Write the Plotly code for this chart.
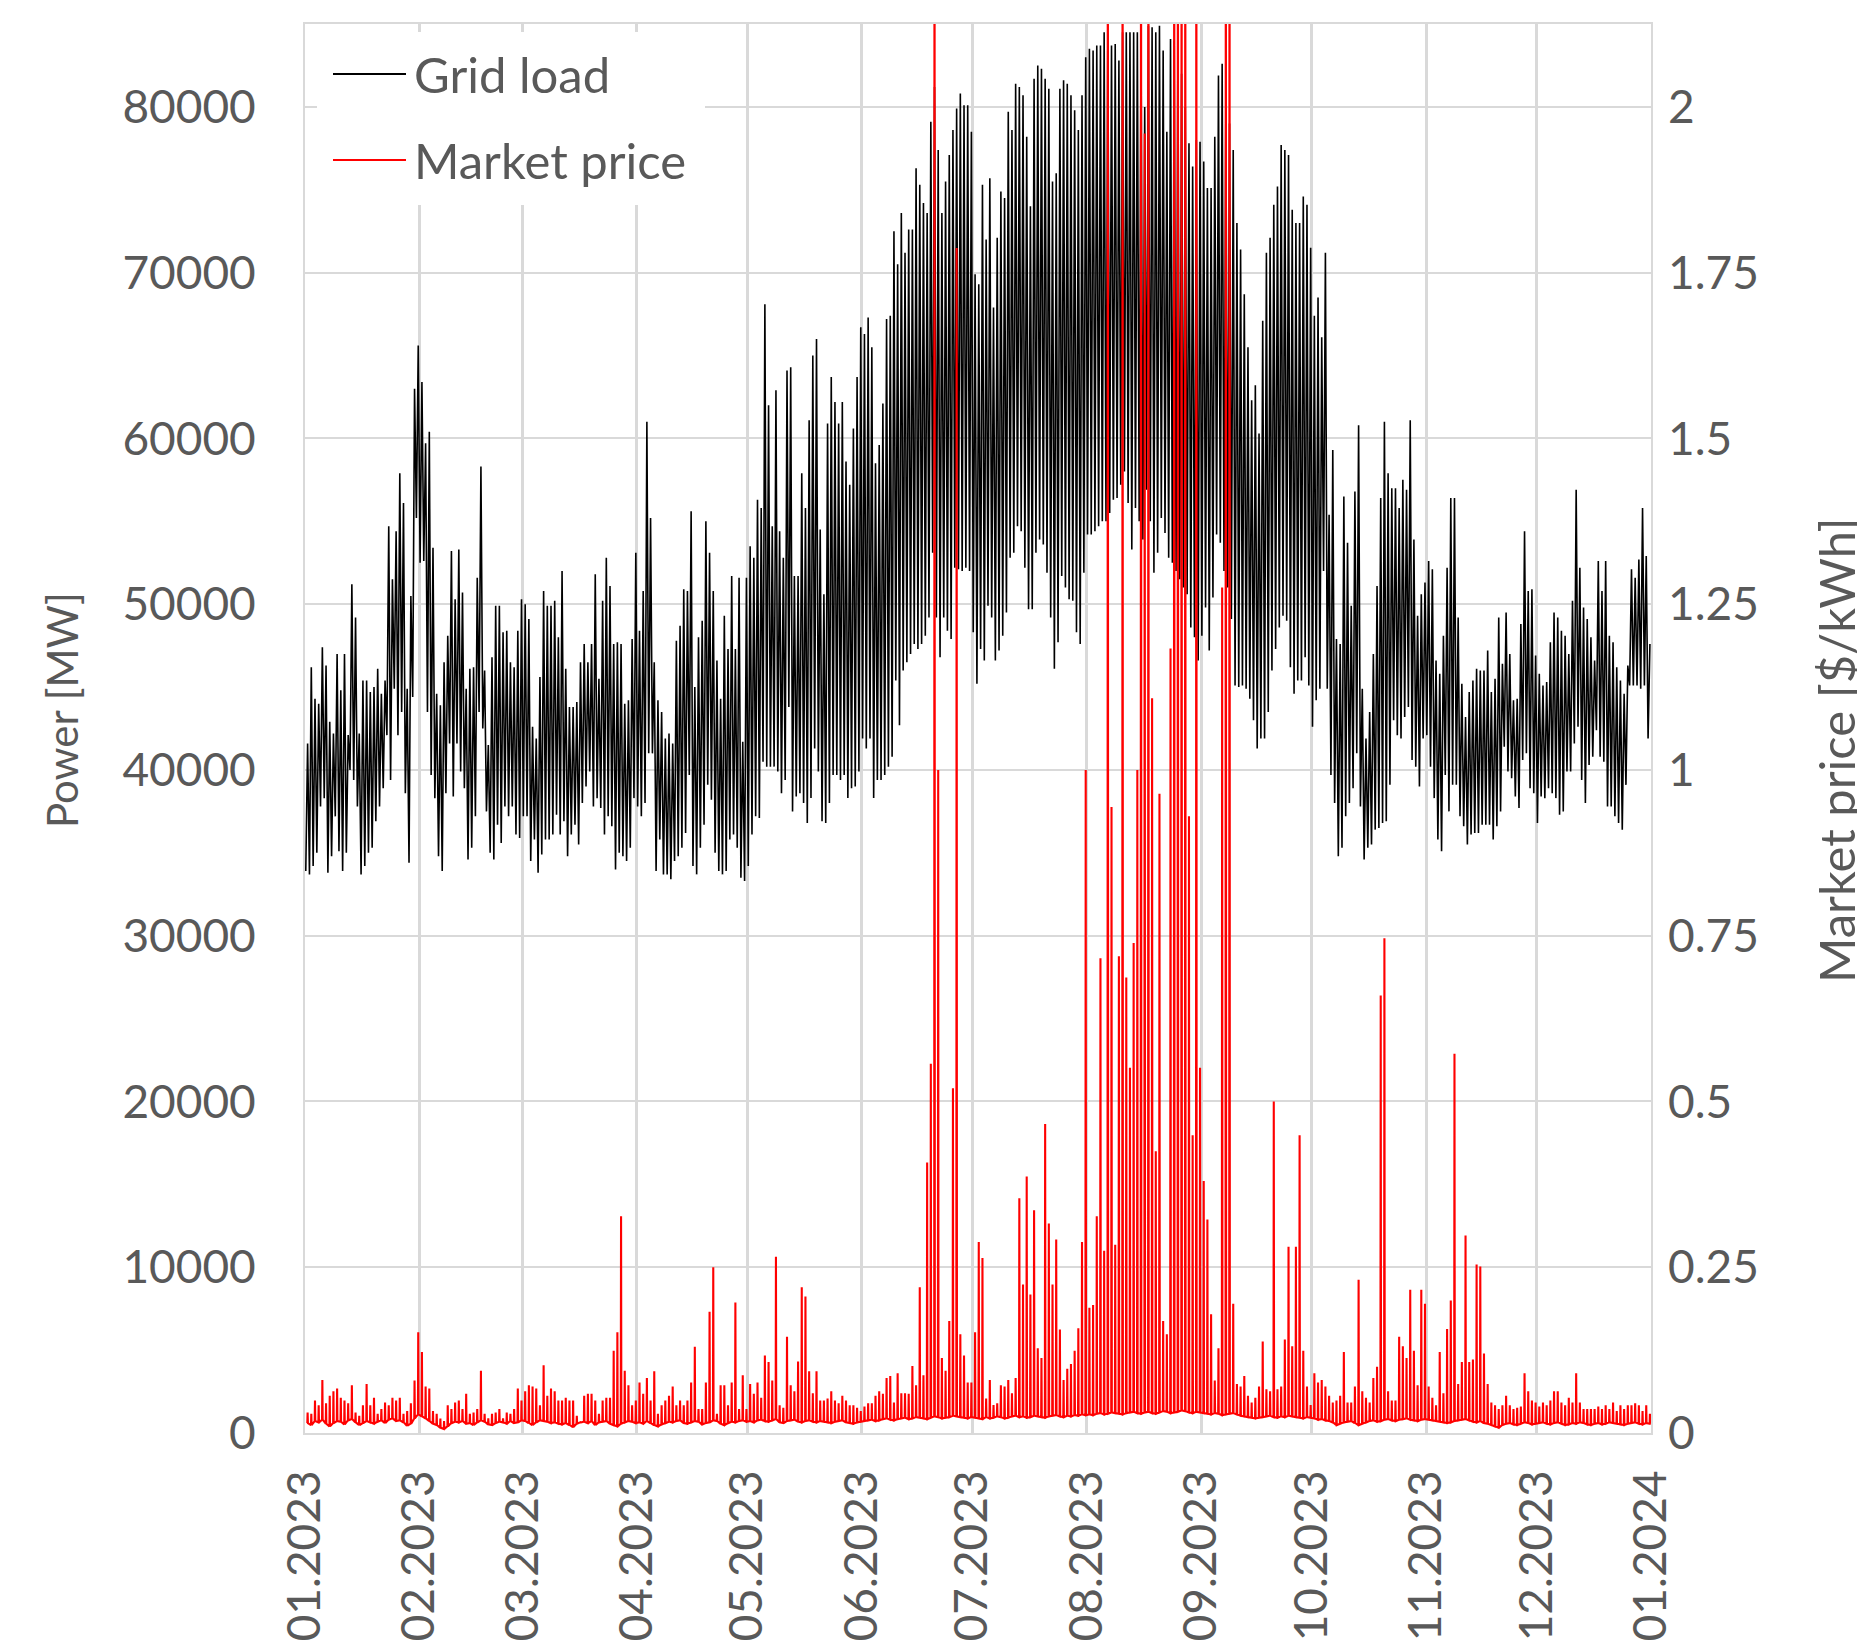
import pandas as pd
import plotly.graph_objects as go

# ---------------- data ----------------
month_ticks = ["2023-01-01", "2023-02-01", "2023-03-01", "2023-04-01", "2023-05-01",
               "2023-06-01", "2023-07-01", "2023-08-01", "2023-09-01", "2023-10-01",
               "2023-11-01", "2023-12-01", "2024-01-01"]
month_labels = ["01.2023", "02.2023", "03.2023", "04.2023", "05.2023", "06.2023",
                "07.2023", "08.2023", "09.2023", "10.2023", "11.2023", "12.2023", "01.2024"]

power_ticks = [0, 10000, 20000, 30000, 40000, 50000, 60000, 70000, 80000]
price_ticks = [0, 0.25, 0.5, 0.75, 1, 1.25, 1.5, 1.75, 2]
price_tick_labels = ["0", "0.25", "0.5", "0.75", "1", "1.25", "1.5", "1.75", "2"]

# daily peak of the grid load, thousand MW (1 Jan .. 31 Dec 2023)
load_max_k = [
    41.6, 46.2, 44.3, 44.0, 47.4, 46.3, 42.9, 42.2, 47.0, 44.8,
    47.0, 42.1, 51.2, 49.2, 42.2, 45.4, 45.4, 44.7, 45.0, 46.1,
    44.6, 45.4, 54.7, 51.5, 54.4, 57.9, 56.1, 44.9, 50.5, 63.0,
    65.6, 63.4, 59.7, 60.4, 53.4, 44.6, 43.9, 46.5, 48.1, 53.2,
    50.3, 53.3, 50.7, 44.9, 46.1, 46.2, 51.6, 58.3, 46.0, 41.5,
    46.8, 49.9, 49.9, 48.3, 48.4, 46.5, 46.2, 48.4, 50.3, 50.0,
    49.1, 42.6, 41.9, 45.6, 50.8, 49.9, 49.9, 50.2, 48.0, 52.0,
    46.1, 43.8, 43.8, 44.1, 46.5, 47.6, 46.5, 47.6, 51.8, 45.5,
    50.2, 52.8, 51.1, 47.6, 47.7, 47.6, 44.0, 44.2, 47.9, 53.1,
    48.4, 50.8, 61.0, 55.2, 46.5, 44.2, 43.5, 41.9, 42.2, 41.6,
    47.8, 48.7, 50.9, 50.8, 55.6, 45.0, 48.0, 49.0, 55.0, 53.1,
    50.8, 46.6, 44.3, 49.3, 47.3, 51.7, 47.3, 51.6, 41.7, 51.6,
    53.5, 52.8, 56.3, 55.8, 68.1, 62.0, 54.7, 62.9, 54.4, 52.8,
    64.1, 64.3, 51.7, 51.7, 57.9, 55.8, 61.1, 65.0, 66.0, 54.5,
    50.6, 60.9, 63.7, 62.2, 60.9, 62.2, 58.6, 57.2, 60.6, 63.7,
    66.7, 66.3, 67.3, 65.5, 58.5, 59.6, 62.1, 67.2, 67.4, 72.5,
    70.5, 73.6, 71.2, 72.6, 72.6, 76.3, 75.3, 74.2, 73.6, 79.1,
    81.2, 77.4, 73.6, 75.5, 77.1, 78.6, 79.9, 80.8, 80.1, 80.1,
    78.5, 69.9, 69.3, 75.3, 72.0, 75.7, 67.9, 72.1, 74.9, 74.5,
    79.7, 78.6, 81.4, 81.2, 80.7, 78.2, 74.0, 81.7, 82.5, 82.3,
    81.7, 81.1, 75.5, 76.0, 81.1, 81.6, 81.4, 80.7, 79.8, 78.6,
    80.7, 83.0, 83.5, 83.4, 83.7, 83.7, 84.5, 84.5, 83.7, 83.8,
    82.8, 84.5, 84.5, 84.5, 84.5, 84.5, 84.0, 80.0, 84.9, 84.8,
    84.5, 84.9, 83.4, 78.5, 84.1, 84.0, 83.5, 82.0, 80.0, 77.8,
    76.4, 78.0, 77.9, 76.7, 75.1, 75.1, 78.2, 81.9, 82.6, 80.0,
    79.0, 77.4, 73.0, 71.4, 68.7, 65.5, 62.3, 63.2, 60.3, 67.1,
    71.2, 72.1, 74.1, 75.2, 77.7, 77.4, 77.1, 73.8, 73.0, 73.0,
    74.6, 74.1, 71.5, 67.4, 68.5, 66.1, 71.2, 55.4, 59.3, 47.9,
    47.6, 56.5, 53.7, 49.9, 56.8, 60.8, 44.9, 41.9, 43.5, 47.0,
    51.1, 56.4, 61.0, 57.9, 57.0, 57.0, 55.8, 57.5, 56.9, 61.1,
    53.9, 49.3, 50.6, 51.3, 52.6, 52.1, 46.6, 45.8, 48.1, 52.2,
    56.4, 56.4, 49.2, 45.2, 43.2, 44.7, 45.4, 46.1, 46.0, 46.0,
    47.2, 44.7, 45.5, 49.2, 46.4, 49.5, 47.0, 44.2, 44.3, 48.8,
    54.4, 50.8, 50.9, 46.9, 45.8, 45.1, 45.3, 47.7, 49.5, 49.2,
    48.4, 48.1, 47.0, 50.2, 56.9, 52.2, 49.8, 49.1, 48.0, 46.6,
    52.6, 50.8, 52.6, 48.1, 47.7, 46.2, 45.4, 44.6, 46.3, 52.1,
    51.6, 52.7, 55.8, 52.9, 47.6,
]

# daily minimum of the grid load, thousand MW
load_min_k = [
    33.9, 33.7, 34.2, 35.0, 37.8, 38.3, 33.8, 34.8, 37.2, 35.1,
    33.9, 35.0, 40.0, 39.4, 37.8, 33.7, 34.2, 35.0, 35.3, 36.9,
    37.8, 38.9, 42.1, 39.4, 44.9, 42.1, 43.5, 38.6, 34.4, 44.4,
    55.2, 52.5, 52.6, 43.5, 39.7, 38.3, 34.8, 33.9, 38.6, 41.6,
    38.4, 41.6, 39.9, 38.9, 34.6, 35.3, 37.2, 43.5, 42.5, 37.5,
    35.0, 34.6, 36.7, 35.6, 37.8, 37.2, 37.8, 36.1, 35.9, 37.2,
    37.2, 34.5, 35.8, 33.8, 34.9, 35.8, 35.8, 36.1, 37.3, 36.1,
    36.9, 34.8, 36.1, 36.7, 35.5, 38.0, 39.0, 39.9, 37.8, 38.3,
    37.7, 36.1, 37.2, 36.6, 34.0, 35.0, 34.8, 34.5, 35.3, 38.3,
    37.8, 37.2, 38.0, 41.0, 41.0, 33.9, 35.8, 33.7, 33.7, 33.4,
    34.5, 34.8, 35.3, 36.2, 39.7, 34.2, 33.7, 35.3, 36.7, 39.1,
    38.2, 35.0, 33.9, 33.7, 33.9, 35.8, 36.1, 35.3, 33.5, 33.3,
    34.2, 36.1, 37.2, 37.1, 40.5, 40.2, 40.2, 40.2, 39.9, 38.6,
    39.4, 43.8, 37.5, 38.4, 38.6, 38.0, 36.8, 38.3, 41.3, 39.9,
    36.9, 36.8, 38.0, 39.7, 39.7, 39.4, 39.7, 38.3, 38.9, 39.0,
    39.9, 41.9, 41.3, 41.9, 38.3, 39.4, 39.4, 39.7, 40.2, 40.8,
    45.4, 42.7, 46.0, 46.5, 47.0, 47.6, 47.3, 47.6, 48.1, 49.2,
    53.1, 49.2, 46.8, 49.2, 48.4, 47.9, 52.2, 52.1, 52.0, 52.2,
    52.0, 48.3, 45.2, 47.3, 46.6, 49.9, 49.2, 46.6, 47.2, 48.1,
    49.5, 52.8, 53.1, 54.7, 54.4, 52.2, 49.7, 49.7, 53.1, 53.9,
    53.6, 51.9, 49.2, 46.1, 47.7, 51.7, 51.0, 50.3, 50.2, 48.3,
    47.6, 51.9, 54.2, 54.2, 54.4, 54.7, 55.0, 55.0, 55.5, 56.3,
    56.4, 57.2, 58.0, 56.1, 53.3, 55.8, 55.0, 53.9, 56.9, 55.0,
    51.9, 53.1, 55.2, 54.3, 52.8, 52.5, 52.0, 51.5, 51.0, 50.6,
    48.6, 48.0, 46.6, 48.1, 49.8, 47.2, 50.4, 54.2, 53.7, 52.0,
    51.0, 49.1, 45.1, 45.0, 45.1, 44.9, 44.3, 43.0, 41.3, 41.9,
    41.9, 43.5, 46.0, 47.3, 48.6, 49.3, 49.0, 46.2, 44.6, 45.4,
    45.4, 46.8, 45.1, 42.6, 44.2, 44.9, 52.0, 44.9, 39.7, 38.0,
    34.8, 35.3, 37.2, 38.0, 38.9, 41.0, 37.8, 34.6, 35.3, 35.5,
    36.4, 36.5, 36.8, 36.9, 39.1, 43.0, 42.1, 41.9, 43.2, 43.8,
    40.6, 40.2, 39.0, 41.9, 42.1, 40.2, 38.3, 35.8, 35.1, 39.7,
    37.5, 39.1, 39.1, 37.2, 36.6, 35.5, 36.1, 36.2, 36.2, 36.7,
    36.7, 36.7, 35.8, 36.6, 37.5, 41.4, 39.9, 39.5, 38.4, 37.7,
    40.6, 41.0, 38.9, 38.6, 36.8, 38.4, 38.3, 38.9, 38.6, 38.3,
    37.3, 37.5, 39.9, 39.9, 41.6, 42.6, 39.4, 38.0, 40.3, 40.8,
    42.4, 40.8, 40.5, 37.8, 37.8, 37.2, 36.8, 36.4, 39.1, 45.1,
    45.1, 45.1, 44.9, 45.1, 41.9,
]

# daily highest market price, $/kWh (spikes above the axis top are clipped)
price_max = [
    .031, .029, .049, .042, .080, .045, .056, .063, .067, .053,
    .049, .045, .072, .031, .026, .042, .074, .042, .053, .029,
    .036, .046, .042, .053, .049, .053, .029, .033, .045, .079,
    .152, .122, .070, .067, .033, .029, .022, .018, .042, .036,
    .046, .049, .036, .059, .029, .031, .036, .094, .029, .022,
    .029, .031, .036, .022, .031, .029, .036, .067, .049, .063,
    .072, .070, .067, .042, .102, .056, .067, .063, .049, .049,
    .053, .049, .049, .026, .015, .056, .059, .059, .049, .029,
    .049, .053, .053, .124, .152, .327, .094, .072, .042, .049,
    .076, .059, .083, .049, .093, .029, .042, .049, .056, .070,
    .042, .049, .042, .049, .076, .130, .036, .036, .076, .183,
    .250, .029, .072, .072, .042, .076, .197, .036, .087, .036,
    .074, .059, .076, .053, .117, .107, .079, .266, .042, .038,
    .145, .072, .063, .108, .220, .206, .093, .060, .093, .049,
    .049, .052, .063, .049, .045, .056, .049, .042, .042, .038,
    .033, .040, .045, .045, .056, .063, .059, .083, .086, .046,
    .090, .060, .060, .059, .101, .072, .220, .087, .408, .557,
    3.00, 1.00, .113, .094, .169, .520, 1.787, .149, .117, .076,
    .076, .152, .288, .264, .052, .080, .042, .045, .072, .070,
    .080, .060, .083, .354, .224, .387, .209, .336, .128, .113,
    .466, .316, .224, .292, .156, .080, .097, .104, .124, .158,
    .288, 1.00, .189, .193, .327, .716, .275, 3.00, .944, .284,
    .719, 3.00, .687, .551, .739, 1.00, 3.00, 1.96, 3.00, 1.108,
    .425, .964, .169, .149, 1.183, 3.00, 3.00, 3.00, 3.00, .930,
    .449, 3.00, .551, .380, .322, .179, .079, .128, 1.275, 3.00,
    3.00, .195, .074, .070, .086, .056, .046, .053, .070, .138,
    .066, .063, .500, .066, .070, .141, .281, .131, .281, .449,
    .124, .070, .042, .090, .076, .080, .070, .056, .046, .049,
    .056, .122, .046, .046, .070, .231, .063, .053, .046, .083,
    .100, .660, .746, .063, .049, .049, .145, .131, .113, .216,
    .124, .072, .216, .195, .070, .053, .042, .122, .060, .157,
    .200, .572, .074, .107, .298, .107, .111, .254, .251, .120,
    .074, .046, .042, .036, .042, .056, .042, .036, .038, .040,
    .090, .063, .049, .046, .040, .046, .042, .049, .063, .063,
    .046, .042, .053, .046, .090, .046, .036, .036, .036, .036,
    .040, .036, .042, .036, .046, .033, .042, .036, .042, .042,
    .045, .042, .033, .042, .029,
]

# daily lowest market price, US cents/kWh
price_min_ct = [
    # Jan
    1.5, 1.2, 1.8, 1.6, 2.0, 1.4, 1.0, 1.5, 1.8, 1.7, 1.3, 1.9, 2.1, 1.6, 1.2, 1.5,
    1.8, 1.6, 1.4, 1.7, 1.9, 1.5, 2.0, 2.2, 1.8, 1.9, 1.6, 1.1, 1.4, 2.2, 2.8,
    # Feb
    2.5, 2.2, 1.8, 1.4, 1.2, 0.8, 0.6, 1.0, 1.5, 1.7, 1.6, 1.8, 1.4, 1.5, 1.2, 1.6,
    1.9, 1.7, 1.3, 1.2, 1.5, 1.7, 1.6, 1.4, 1.8, 1.5, 1.6, 1.9,
    # Mar
    1.8, 1.5, 1.2, 1.6, 1.9, 1.8, 1.7, 1.5, 1.6, 1.4, 1.3, 1.5, 1.2, 0.9, 1.4, 1.6,
    1.7, 1.5, 1.8, 1.2, 1.6, 1.7, 1.8, 1.4, 1.2, 1.0, 1.4, 1.6, 1.8, 1.7, 1.5,
    # Apr
    1.6, 1.4, 1.8, 1.5, 1.2, 1.0, 1.3, 1.5, 1.7, 1.6, 1.8, 1.9, 1.5, 1.4, 1.6, 1.8,
    1.7, 1.3, 1.5, 1.6, 1.9, 1.8, 1.4, 1.2, 1.5, 1.7, 1.6, 1.8, 1.9, 1.7,
    # May
    1.8, 1.6, 1.9, 2.0, 1.8, 1.7, 1.9, 2.1, 1.6, 1.5, 1.8, 1.9, 2.0, 1.7, 1.6, 1.8,
    1.9, 1.7, 1.6, 1.8, 1.7, 1.6, 1.5, 1.7, 1.8, 1.9, 1.6, 1.5, 1.4, 1.6, 1.7,
    # Jun
    1.8, 1.9, 2.0, 1.8, 1.9, 2.1, 2.2, 2.0, 1.9, 2.1, 2.2, 2.3, 2.1, 2.2, 2.4, 2.3,
    2.2, 2.1, 2.3, 2.5, 2.4, 2.2, 2.3, 2.4, 2.6, 2.5, 2.4, 2.3, 2.2, 2.4,
    # Jul
    2.3, 2.2, 2.1, 2.4, 2.2, 2.3, 2.5, 2.4, 2.2, 2.3, 2.5, 2.6, 2.4, 2.5, 2.3, 2.4,
    2.6, 2.5, 2.4, 2.3, 2.5, 2.6, 2.7, 2.5, 2.4, 2.6, 2.5, 2.7, 2.6, 2.8, 2.7,
    # Aug
    2.8, 2.7, 2.9, 3.0, 2.8, 2.9, 3.1, 3.0, 2.9, 2.8, 3.0, 3.1, 3.2, 3.0, 2.9, 3.1,
    3.2, 3.0, 2.9, 3.1, 3.3, 3.2, 3.0, 3.1, 3.2, 3.4, 3.3, 3.1, 3.0, 3.2, 3.1,
    # Sep
    3.0, 2.9, 2.8, 3.0, 2.9, 2.7, 2.8, 2.9, 3.0, 2.8, 2.6, 2.5, 2.4, 2.3, 2.2, 2.3,
    2.4, 2.5, 2.6, 2.4, 2.3, 2.5, 2.4, 2.6, 2.5, 2.4, 2.3, 2.2, 2.4, 2.3,
    # Oct
    2.2, 2.0, 2.1, 1.9, 1.8, 1.6, 1.2, 1.4, 1.6, 1.7, 1.8, 1.5, 1.2, 1.4, 1.6, 1.8,
    1.9, 1.7, 1.8, 2.0, 2.1, 1.9, 1.8, 2.0, 2.1, 2.2, 2.0, 1.9, 1.8, 2.0, 2.1,
    # Nov
    2.0, 1.9, 1.8, 1.7, 1.6, 1.5, 1.6, 1.8, 1.9, 2.0, 2.1, 1.9, 1.7, 1.6, 1.8, 1.5,
    1.4, 1.2, 1.0, 0.8, 1.2, 1.4, 1.5, 1.3, 1.2, 1.4, 1.6, 1.5, 1.3, 1.4,
    # Dec
    1.5, 1.6, 1.4, 1.3, 1.5, 1.6, 1.4, 1.2, 1.3, 1.5, 1.4, 1.6, 1.5, 1.3, 1.2, 1.4,
    1.5, 1.3, 1.4, 1.6, 1.5, 1.4, 1.3, 1.2, 1.4, 1.5, 1.6, 1.4, 1.3, 1.5, 1.4,
]

# ---------------- build the intraday-like series ----------------
n_load = min(len(load_max_k), len(load_min_k))
n_price = min(len(price_max), len(price_min_ct))
days = pd.date_range("2023-01-01", periods=max(n_load, n_price), freq="D")
hr = pd.Timedelta(hours=1)

# load: low in the early morning, peak in the afternoon
x_load, y_load = [], []
for i in range(n_load):
    x_load += [days[i] + 5 * hr, days[i] + 17 * hr]
    y_load += [load_min_k[i] * 1000, load_max_k[i] * 1000]

# price: flat daily floor with a short afternoon spike
x_price, y_price = [], []
for i in range(n_price):
    x_price += [days[i] + 15 * hr, days[i] + 17 * hr, days[i] + 19 * hr]
    y_price += [price_min_ct[i] / 100.0, price_max[i], price_min_ct[i] / 100.0]

# ---------------- figure ----------------
W, H = 1857, 1646
PL, PR, PT, PB = 305, 1651, 24, 1433          # plot area in pixels
TXT = "#595959"
GRID = "#d9d9d9"
FONT = "Lato, 'Open Sans', sans-serif"


def px_x(px):
    return (px - PL) / (PR - PL)


def px_y(py):
    return (PB - py) / (PB - PT)


fig = go.Figure()
fig.add_trace(go.Scatter(x=x_load, y=y_load, mode="lines", name="Grid load",
                         line=dict(color="#000000", width=1.6), yaxis="y",
                         showlegend=False))
fig.add_trace(go.Scatter(x=x_price, y=y_price, mode="lines", name="Market price",
                         line=dict(color="#ff0000", width=2.1), yaxis="y2",
                         showlegend=False))

fig.update_layout(
    width=W, height=H,
    margin=dict(l=PL, r=W - PR, t=PT, b=H - PB, pad=0, autoexpand=False),
    paper_bgcolor="white", plot_bgcolor="white",
    font=dict(family=FONT, size=46, color=TXT),
    showlegend=False,
    xaxis=dict(
        type="date", range=["2023-01-01", "2024-01-01"], automargin=False,
        tickmode="array", tickvals=month_ticks, ticktext=month_labels,
        tickangle=-90, ticks="", ticklabelstandoff=17,
        tickfont=dict(family=FONT, size=46, color=TXT),
        showgrid=True, gridcolor=GRID, gridwidth=2.5,
        showline=True, linecolor=GRID, linewidth=2, mirror=True,
        zeroline=False,
    ),
    yaxis=dict(
        range=[0, 85000], automargin=False, tickmode="array", tickvals=power_ticks,
        ticktext=[str(v) for v in power_ticks],
        ticks="", ticklabelstandoff=38,
        tickfont=dict(family=FONT, size=46, color=TXT),
        showgrid=True, gridcolor=GRID, gridwidth=1.5,
        showline=True, linecolor=GRID, linewidth=2, mirror=True,
        zeroline=False,
    ),
    yaxis2=dict(
        range=[0, 2.125], automargin=False, overlaying="y", side="right",
        tickmode="array", tickvals=price_ticks, ticktext=price_tick_labels,
        ticks="", ticklabelstandoff=16,
        tickfont=dict(family=FONT, size=46, color=TXT),
        showgrid=False, zeroline=False, showline=False,
    ),
)

# axis titles
fig.add_annotation(text="Power [MW]", textangle=-90, showarrow=False,
                   xref="paper", yref="paper", x=px_x(62), y=px_y(710),
                   xanchor="center", yanchor="middle",
                   font=dict(family=FONT, size=42, color=TXT))
fig.add_annotation(text="Market price [$/kWh]", textangle=-90, showarrow=False,
                   xref="paper", yref="paper", x=px_x(1836), y=px_y(750),
                   xanchor="center", yanchor="middle",
                   font=dict(family=FONT, size=49, color=TXT))

# legend (white box with line samples, top-left inside the plot)
fig.add_shape(type="rect", xref="paper", yref="paper",
              x0=px_x(317), x1=px_x(705), y0=px_y(205), y1=px_y(32),
              fillcolor="white", line=dict(width=0), layer="above")
legend_items = [("Grid load", "#000000", 74), ("Market price", "#ff0000", 160)]
for label, color, ypx in legend_items:
    fig.add_shape(type="line", xref="paper", yref="paper",
                  x0=px_x(333), x1=px_x(406), y0=px_y(ypx), y1=px_y(ypx),
                  line=dict(color=color, width=2), layer="above")
    fig.add_annotation(text=label, showarrow=False, xref="paper", yref="paper",
                       x=px_x(412), y=px_y(ypx), xanchor="left", yanchor="middle",
                       font=dict(family=FONT, size=49, color=TXT))

fig.write_html("out.html")
